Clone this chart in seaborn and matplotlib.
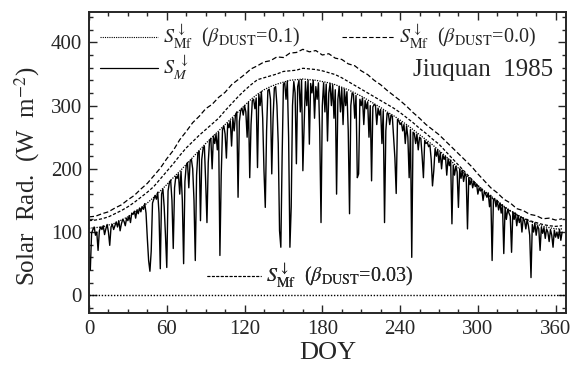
import matplotlib
matplotlib.use('Agg')
import matplotlib.pyplot as plt
import pandas as pd
import seaborn as sns
from matplotlib.lines import Line2D
from matplotlib.ticker import MultipleLocator

# ---------------- data ----------------
days5 = list(range(0, 366, 5))
clear_b00 = [124, 125, 129, 132, 138, 143, 151, 158, 168, 177, 189, 201, 216, 229, 246, 259, 273, 283, 295, 302,
             313, 321, 333, 341, 349, 358, 363, 369, 371, 377, 376, 383, 384, 389, 385, 387, 380, 382, 375, 373,
             366, 363, 355, 349, 340, 333, 324, 316, 308, 299, 289, 280, 270, 262, 254, 244, 234, 224, 214, 204,
             192, 181, 170, 162, 152, 146, 137, 134, 128, 126, 121, 122, 119, 121]
clear_b003 = [118, 119, 121, 124, 129, 134, 140, 147, 155, 163, 172, 184, 196, 208, 221, 233, 243, 253, 262, 271,
              280, 292, 303, 314, 324, 333, 341, 344, 347, 350, 354, 355, 356, 359, 358, 357, 355, 352, 349, 344,
              338, 332, 326, 320, 314, 308, 302, 296, 289, 281, 273, 264, 256, 247, 239, 228, 217, 206, 195, 184,
              173, 163, 155, 147, 140, 133, 127, 122, 118, 115, 112, 110, 109, 110]
clear_b01 = [106, 107, 108, 111, 114, 119, 124, 131, 138, 146, 155, 165, 175, 186, 196, 207, 218, 229, 240, 250,
             260, 270, 280, 290, 300, 310, 318, 325, 330, 334, 337, 340, 341, 342, 341, 340, 338, 336, 333, 329,
             325, 320, 315, 309, 303, 297, 290, 284, 277, 270, 262, 254, 246, 238, 229, 220, 211, 201, 192, 183,
             174, 165, 157, 149, 141, 134, 128, 122, 117, 113, 109, 107, 105, 105]

doy = list(range(1, 366))
measured = [40, 98, 104, 108, 95, 100, 71, 102, 108, 104,
            110, 96, 105, 112, 100, 79, 108, 112, 104, 110,
            116, 108, 118, 102, 113, 120, 117, 110, 122, 118,
            126, 115, 130, 128, 133, 122, 135, 129, 138, 132,
            140, 136, 145, 130, 90, 55, 38, 70, 146, 152,
            158, 152, 163, 130, 42, 160, 168, 140, 95, 44,
            165, 178, 182, 150, 74, 170, 188, 185, 192, 160,
            196, 150, 50, 180, 205, 210, 170, 212, 215, 200,
            150, 55, 190, 225, 228, 118, 215, 232, 236, 180,
            115, 210, 245, 248, 200, 252, 240, 255, 230, 258,
            63, 190, 262, 268, 255, 217, 272, 265, 276, 236,
            280, 260, 285, 290, 155, 275, 292, 296, 285, 300,
            290, 250, 305, 186, 270, 308, 310, 295, 312, 202,
            318, 300, 322, 280, 197, 139, 260, 324, 326, 310,
            192, 280, 328, 330, 300, 240, 102, 76, 220, 334,
            336, 310, 339, 250, 76, 140, 300, 338, 320, 208,
            330, 340, 290, 341, 197, 271, 338, 300, 340, 239,
            335, 320, 340, 280, 330, 310, 336, 260, 115, 300,
            336, 290, 334, 244, 320, 335, 300, 333, 280, 325,
            160, 310, 330, 290, 328, 270, 326, 300, 322, 260,
            129, 300, 320, 318, 280, 316, 186, 192, 310, 300,
            312, 270, 308, 295, 306, 250, 300, 181, 298, 302,
            300, 270, 296, 285, 294, 240, 292, 115, 260, 288,
            287, 270, 285, 283, 250, 217, 161, 278, 276, 270,
            273, 260, 270, 240, 268, 250, 186, 262, 60, 258,
            256, 240, 255, 230, 250, 248, 220, 186, 245, 240,
            242, 235, 238, 215, 173, 197, 232, 220, 230, 210,
            226, 200, 222, 215, 220, 190, 216, 205, 214, 113,
            206, 190, 204, 195, 139, 200, 185, 198, 180, 193,
            188, 105, 186, 175, 183, 170, 180, 172, 176, 160,
            170, 165, 168, 150, 164, 160, 155, 162, 140, 158,
            55, 150, 153, 140, 150, 135, 146, 130, 143, 66,
            138, 120, 136, 130, 125, 68, 132, 120, 130, 110,
            126, 115, 124, 100, 122, 118, 105, 120, 110, 95,
            28, 112, 100, 114, 95, 110, 105, 71, 108, 98,
            107, 90, 105, 100, 85, 104, 95, 76, 103, 92,
            100, 90, 104, 87, 100]

lab_b01 = r'$S_{\mathrm{Mf}}^{\downarrow}$  ($\beta_{\mathrm{DUST}}$=0.1)'
lab_b00 = r'$S_{\mathrm{Mf}}^{\downarrow}$  ($\beta_{\mathrm{DUST}}$=0.0)'
lab_b003 = r'$S_{\mathrm{Mf}}^{\downarrow}$  ($\beta_{\mathrm{DUST}}$=0.03)'
lab_meas = r'$S_{M}^{\ \downarrow}$'

# ---------------- style ----------------
sns.set_style('ticks')
plt.rcParams['font.family'] = ['Liberation Serif', 'DejaVu Serif']
plt.rcParams['mathtext.fontset'] = 'stix'

fig = plt.figure(figsize=(5.76, 3.67), dpi=100)
ax = fig.add_axes([89 / 576, 1 - 313 / 367, (566 - 89) / 576, (313 - 12) / 367])

df_clear = pd.DataFrame({'DOY': days5, 'b00': clear_b00, 'b003': clear_b003, 'b01': clear_b01})
df_meas = pd.DataFrame({'DOY': doy, 'S': measured})

sns.lineplot(data=df_meas, x='DOY', y='S', ax=ax, color='black', lw=1.0)
sns.lineplot(data=df_clear, x='DOY', y='b00', ax=ax, color='black', lw=0.9)
ax.lines[-1].set_dashes((4, 2))
sns.lineplot(data=df_clear, x='DOY', y='b003', ax=ax, color='black', lw=0.9)
ax.lines[-1].set_dashes((2.5, 1.5))
sns.lineplot(data=df_clear, x='DOY', y='b01', ax=ax, color='black', lw=0.9)
ax.lines[-1].set_dashes((1, 1))
ax.axhline(0, color='black', lw=1.0, dashes=(1, 1.2))

ax.set_xlim(0, 368)
ax.set_ylim(-28, 448)
ax.xaxis.set_major_locator(MultipleLocator(60))
ax.xaxis.set_minor_locator(MultipleLocator(15))
ax.yaxis.set_major_locator(MultipleLocator(100))
ax.yaxis.set_minor_locator(MultipleLocator(20))
ax.tick_params(which='both', direction='in', top=True, right=True, width=1.0)
ax.tick_params(which='major', length=6, labelsize=15, pad=5)
ax.tick_params(which='minor', length=3)
for s in ax.spines.values():
    s.set_linewidth(1.4)

ax.set_xlabel('DOY', fontsize=19, labelpad=2)
ax.set_ylabel(r'Solar  Rad.  (W  m$^{-2}$)', fontsize=18)
ax.yaxis.set_label_coords(-0.098, 0.455)

def add_leg(handle, label, x, y, hl):
    leg = ax.legend(handles=[handle], labels=[label], loc='center left', bbox_to_anchor=(x, y),
                    frameon=False, borderpad=0, borderaxespad=0, handlelength=hl,
                    handletextpad=0.25, fontsize=14.5)
    ax.add_artist(leg)

add_leg(Line2D([], [], color='black', lw=0.8, dashes=(1, 1)), lab_b01, 0.023, 0.917, 2.9)
add_leg(Line2D([], [], color='black', lw=0.8, dashes=(4, 2)), lab_b00, 0.530, 0.917, 2.6)
add_leg(Line2D([], [], color='black', lw=0.9), lab_meas, 0.023, 0.814, 2.9)
add_leg(Line2D([], [], color='black', lw=0.8, dashes=(2.5, 1.5)), lab_b003, 0.247, 0.123, 2.7)

ax.text(0.973, 0.807, 'Jiuquan  1985', transform=ax.transAxes, ha='right', va='center', fontsize=18)

fig.savefig('out.png', dpi=100)
